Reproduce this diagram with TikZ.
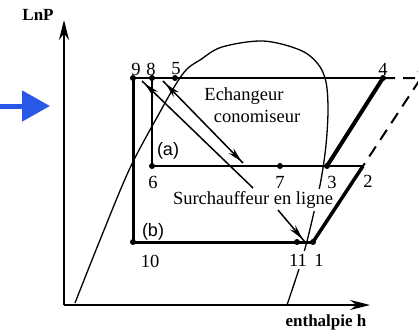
\documentclass[tikz,border=0pt]{standalone}
\usepackage{fontspec}
\setmainfont{Liberation Serif}
\newfontfamily\sansfam{Liberation Sans}
\usetikzlibrary{arrows.meta, decorations.markings}
\definecolor{arrowblue}{RGB}{40,88,230}

\tikzset{
  axis/.style={line width=1.5pt, -{Stealth[length=20pt,width=10pt]}},
  axlbl/.style={font=\bfseries\fontsize{17}{19}\selectfont, inner sep=1pt},
  txt/.style={font=\fontsize{18.5}{20}\selectfont, inner sep=1pt},
  sanstxt/.style={font=\sansfam\fontsize{18}{20}\selectfont, inner sep=1pt},
  dot/.style={circle, fill, inner sep=0pt, minimum size=6pt},
  tipfwd/.style={postaction={decorate, decoration={markings,
      mark=at position #1 with {\arrow{Stealth[length=15pt,width=7pt]}}}}},
  tipback/.style={postaction={decorate, decoration={markings,
      mark=at position #1 with {\arrowreversed{Stealth[length=15pt,width=7pt]}}}}},
}

\begin{document}
\begin{tikzpicture}[x=1pt, y=-1pt]
  \useasboundingbox (0,0) rectangle (418,332);
  % axes
  \coordinate (O) at (64,305);
  \coordinate (ytop) at (64,20);
  \coordinate (xend) at (370,305);
  \draw[axis] (O) -- (ytop);
  \draw[axis] (O) -- (xend);
  \node[axlbl] (lnp) at (38,15) {LnP};
  \node[axlbl] (hx) at (326,322) {enthalpie h};
  % blue pointer
  \coordinate (b0) at (0,106);
  \coordinate (b1) at (50,106);
  \draw[arrowblue, line width=5pt, -{Triangle[length=28pt,width=30pt]}] (b0) -- (b1);
  % saturation dome
  \draw[line width=1.3pt] plot[smooth, tension=0.55] coordinates {(75,303) (100,240) (130,168)
    (160,112) (176,84) (187,69) (200,60) (222,47) (263,41) (300,50) (318,64) (326,82)
    (328,110) (326,145) (321,180) (314,212) (306,245) (298,272) (287,305)};
  % texts
  \node[txt] (ech) at (244,96) {Echangeur};
  \node[txt] (eco) at (257,116) {conomiseur};
  \node[txt, fill=white, inner xsep=1pt, inner ysep=2.5pt] (sur) at (253,200) {Surchauffeur en ligne};
  \node[sanstxt] (la) at (168,151) {(a)};
  \node[sanstxt] (lb) at (153,232) {(b)};
  % cycle points
  \coordinate (p9) at (133,78);
  \coordinate (p8) at (152,78);
  \coordinate (p5) at (175,78);
  \coordinate (p4) at (383,78);
  \coordinate (p4b) at (421,78);
  \coordinate (p6) at (152,166);
  \coordinate (p7) at (280,166);
  \coordinate (p3) at (327,166);
  \coordinate (p2) at (363,166);
  \coordinate (p10) at (133,242);
  \coordinate (p11) at (297,242);
  \coordinate (p1) at (313,242);
  % cycle
  \draw[line width=2.5pt] (p9) -- (p4);
  \draw[line width=3pt] (p9) -- (p10) -- (p1);
  \draw[line width=1.5pt] (p8) -- (p6);
  \draw[line width=2pt] (p6) -- (p2);
  \draw[line width=4pt] (p4) -- (p3);
  \draw[line width=3.5pt] (p2) -- (p1);
  \draw[line width=2pt, dash pattern=on 12pt off 8pt] (p4) -- (p4b) -- (p2);
  % exchanger lines
  \coordinate (a0) at (142,81);
  \coordinate (a1) at (253,188);
  \coordinate (e0) at (163,81);
  \coordinate (e1) at (243,163);
  \coordinate (s0) at (278,210);
  \coordinate (s1) at (305,242);
  \draw[line width=1.5pt, tipback=4pt] (a0) -- (a1);
  \draw[line width=1.5pt, tipback=4pt, tipfwd=-2pt] (e0) -- (e1);
  \draw[line width=1.5pt, tipfwd=-4pt] (s0) -- (s1);
  % dots
  \foreach \p in {9,8,5,4,6,7,3,10,11,1}
    \node[dot] (d\p) at (p\p) {};
  % numbers
  \node[txt] (l9) at (136,69) {9};
  \node[txt] (l8) at (151,69) {8};
  \node[txt] (l5) at (176,69) {5};
  \node[txt] (l4) at (383,69) {4};
  \node[txt] (l4b) at (422,69) {4};
  \node[txt] (l6) at (153,182) {6};
  \node[txt] (l7) at (280,182) {7};
  \node[txt] (l3) at (332,182) {3};
  \node[txt] (l2) at (368,181) {2};
  \node[txt] (l10) at (150,261) {10};
  \node[txt, fill=white, inner sep=3pt] (l11) at (298,260) {11};
  \node[txt, fill=white, inner sep=3pt] (l1) at (319,260) {1};
\end{tikzpicture}
\end{document}
